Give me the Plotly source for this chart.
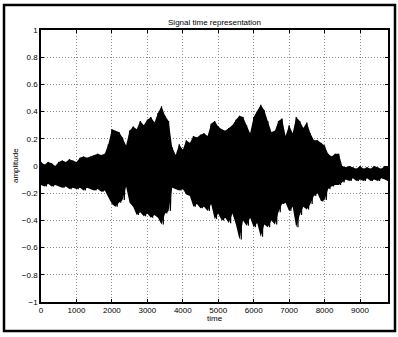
import plotly.graph_objects as go

# Sample positions (time) and the read-off envelope of the speech waveform
time = [0, 100, 200, 300, 400, 500, 600, 700, 800, 900,
        1000, 1100, 1200, 1300, 1400, 1500, 1600, 1700, 1800, 1900,
        2000, 2100, 2200, 2300, 2400, 2500, 2600, 2700, 2800, 2900,
        3000, 3100, 3200, 3300, 3400, 3500, 3600, 3700, 3800, 3900,
        4000, 4100, 4200, 4300, 4400, 4500, 4600, 4700, 4800, 4900,
        5000, 5100, 5200, 5300, 5400, 5500, 5600, 5700, 5800, 5900,
        6000, 6100, 6200, 6300, 6400, 6500, 6600, 6700, 6800, 6900,
        7000, 7100, 7200, 7300, 7400, 7500, 7600, 7700, 7800, 7900,
        8000, 8100, 8200, 8300, 8400, 8500, 8600, 8700, 8800, 8900,
        9000, 9100, 9200, 9300, 9400, 9500, 9600, 9700, 9790]

amp_upper = [0.03, 0.01, 0.03, 0.02, 0.00, 0.03, 0.04, 0.03, 0.05, 0.04,
             0.03, 0.06, 0.07, 0.06, 0.07, 0.08, 0.09, 0.08, 0.09, 0.16,
             0.27, 0.26, 0.25, 0.21, 0.15, 0.26, 0.29, 0.27, 0.33, 0.30,
             0.34, 0.36, 0.32, 0.39, 0.44, 0.37, 0.33, 0.14, 0.08, 0.16,
             0.12, 0.19, 0.17, 0.22, 0.21, 0.23, 0.24, 0.22, 0.31, 0.33,
             0.29, 0.27, 0.26, 0.28, 0.30, 0.34, 0.37, 0.36, 0.30, 0.24,
             0.36, 0.40, 0.45, 0.41, 0.33, 0.25, 0.26, 0.33, 0.35, 0.22,
             0.30, 0.24, 0.36, 0.33, 0.28, 0.32, 0.24, 0.19, 0.19, 0.17,
             0.15, 0.09, 0.07, 0.09, 0.09, 0.00, -0.01, 0.00, -0.01, -0.02,
             0.00, -0.02, -0.01, -0.02, 0.00, -0.01, -0.02, 0.00, -0.01]

amp_lower = [-0.14, -0.15, -0.13, -0.15, -0.14, -0.15, -0.16, -0.15, -0.17, -0.16,
             -0.17, -0.16, -0.18, -0.16, -0.17, -0.18, -0.17, -0.19, -0.18, -0.23,
             -0.28, -0.30, -0.27, -0.25, -0.15, -0.27, -0.30, -0.36, -0.34, -0.37,
             -0.35, -0.38, -0.36, -0.38, -0.43, -0.35, -0.33, -0.16, -0.17, -0.18,
             -0.17, -0.21, -0.22, -0.30, -0.28, -0.31, -0.30, -0.33, -0.28, -0.39,
             -0.35, -0.40, -0.38, -0.42, -0.35, -0.43, -0.54, -0.40, -0.44, -0.38,
             -0.45, -0.42, -0.52, -0.43, -0.45, -0.40, -0.43, -0.34, -0.28, -0.27,
             -0.33, -0.30, -0.45, -0.36, -0.30, -0.32, -0.28, -0.22, -0.20, -0.26,
             -0.25, -0.17, -0.15, -0.14, -0.14, -0.12, -0.10, -0.11, -0.09, -0.11,
             -0.10, -0.11, -0.09, -0.11, -0.10, -0.11, -0.09, -0.10, -0.11]

x_ticks = [0, 1000, 2000, 3000, 4000, 5000, 6000, 7000, 8000, 9000]
y_ticks = [-1, -0.8, -0.6, -0.4, -0.2, 0, 0.2, 0.4, 0.6, 0.8, 1]

FONT = "Liberation Sans, Arial, Helvetica, sans-serif"

# Oscillating trace: each envelope sample swings from its upper to its lower value
wave_x, wave_y = [], []
for i, t in enumerate(time):
    nxt = time[i + 1] if i + 1 < len(time) else t
    wave_x += [t, (t + nxt) / 2]
    wave_y += [amp_upper[i], amp_lower[i]]

fig = go.Figure()
# solid body between the envelopes
fig.add_trace(go.Scatter(x=time, y=amp_lower, mode="lines",
                         line=dict(color="black", width=0), showlegend=False,
                         hoverinfo="skip"))
fig.add_trace(go.Scatter(x=time, y=amp_upper, mode="lines", fill="tonexty",
                         fillcolor="black", line=dict(color="black", width=0),
                         showlegend=False, hoverinfo="skip"))
# oscillation strokes
fig.add_trace(go.Scatter(x=wave_x, y=wave_y, mode="lines",
                         line=dict(color="black", width=1.2), showlegend=False,
                         hoverinfo="skip"))

axis_common = dict(showline=True, linecolor="black", linewidth=1.5, mirror="ticks",
                   ticks="inside", ticklen=3, tickcolor="black", tickwidth=1,
                   showgrid=True, gridcolor="#8c8c8c", griddash="1px,2px", gridwidth=1,
                   zeroline=False, automargin=False,
                   tickfont=dict(family=FONT, size=8, color="black"))

fig.update_xaxes(range=[0, 9790], tickvals=x_ticks, ticktext=[str(v) for v in x_ticks],
                 **axis_common)
fig.update_yaxes(range=[-1, 1], tickvals=y_ticks,
                 ticktext=["\u22121", "\u22120.8", "\u22120.6", "\u22120.4", "\u22120.2",
                           "0", "0.2", "0.4", "0.6", "0.8", "1"],
                 **axis_common)

fig.update_layout(
    width=398, height=337,
    margin=dict(l=41, r=10, t=30, b=35),
    paper_bgcolor="white", plot_bgcolor="white",
    font=dict(family=FONT, size=8, color="black"),
    title=dict(text="Signal time representation", x=0.5, xref="paper",
               y=1 - 22 / 337, yref="container", yanchor="middle",
               font=dict(family=FONT, size=8, color="black")),
    annotations=[
        dict(text="amplitude", xref="paper", yref="paper", x=(15 - 41) / 347, y=0.5,
             textangle=-90, showarrow=False, xanchor="center", yanchor="middle",
             font=dict(family=FONT, size=8, color="black")),
        dict(text="time", xref="paper", yref="paper", x=0.5, y=(302 - 318) / 272,
             showarrow=False, xanchor="center", yanchor="middle",
             font=dict(family=FONT, size=8, color="black")),
    ],
    shapes=[dict(type="rect", xref="paper", yref="paper",
                 x0=(4 - 41) / 347, x1=(395 - 41) / 347,
                 y0=(302 - 331) / 272, y1=(302 - 5) / 272,
                 line=dict(color="black", width=2.5), fillcolor="rgba(0,0,0,0)",
                 layer="above")],
)

fig.write_html("out.html", config={"displayModeBar": False},
               post_script="document.body.style.margin='0';document.body.style.padding='0';")
